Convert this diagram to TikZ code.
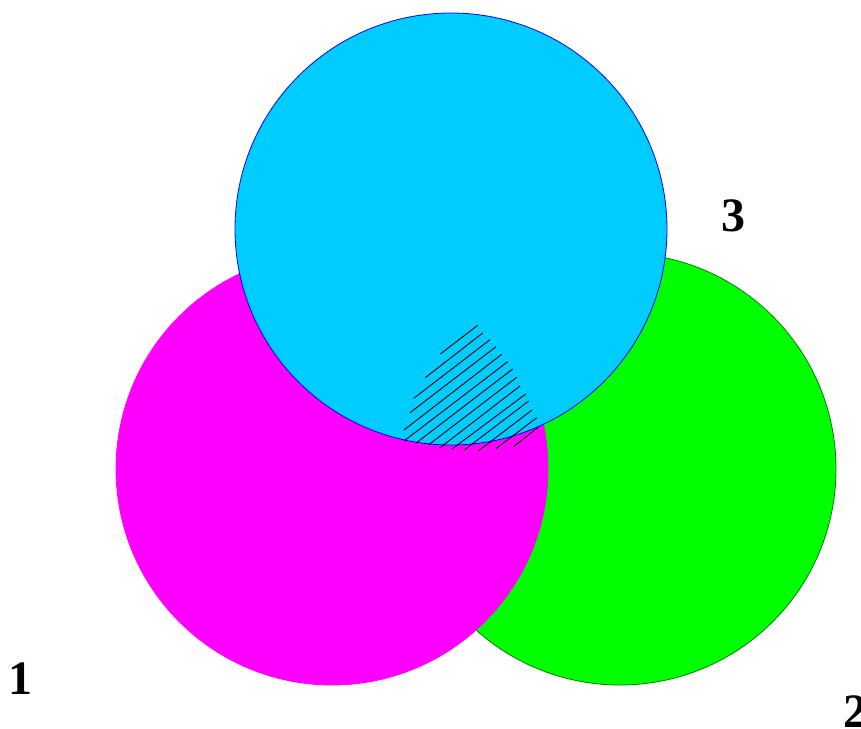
\documentclass[tikz,border=0pt]{standalone}
\usepackage{fontspec}
\setmainfont{Liberation Serif}
\definecolor{skyfill}{RGB}{0,204,255}
\definecolor{limefill}{RGB}{0,255,0}
\definecolor{limeline}{RGB}{0,130,0}
\definecolor{pinkfill}{RGB}{255,0,255}
\begin{document}
\begin{tikzpicture}[x=1pt,y=-1pt]
		\tikzstyle{every node}+=[inner sep=0pt]
		\tikzstyle{setlabel}=[font=\fontsize{48}{48}\selectfont\bfseries]
		\useasboundingbox (0,0) rectangle (861,728);
		% sets
		\draw [limeline, fill=limefill, line width=0.8] (620,469) circle (216);
		\draw [pinkfill, fill=pinkfill, line width=0.8] (332,469) circle (216);
		\draw [blue, fill=skyfill, line width=0.8] (451,229) circle (216);
		% hatched part
		\foreach \xa/\ya/\xb/\yb in {440.3/354/477.7/325.3, 425.3/377.7/482.7/333,
			413.7/398.3/490/339.7, 410/412.7/496/346.7, 404/430/501.7/354.3,
			404/441/507.7/361.7, 415.7/443.3/512.7/369, 428.3/445/516.7/377.3,
			439.3/448.3/520/386, 451.7/449.3/525.7/394, 464.3/450/528.7/401,
			478.3/451/532/410, 496/448.7/536.7/417.7, 513.3/446.7/537.7/427.7}
			\draw [black, line width=0.9] (\xa,\ya) -- (\xb,\yb);
		% labels
		\node [setlabel] (one) at (21,679) {1};
		\node [setlabel] (two) at (855,711.5) {2};
		\node [setlabel] (three) at (733.5,215.5) {3};
	\end{tikzpicture}
\end{document}
